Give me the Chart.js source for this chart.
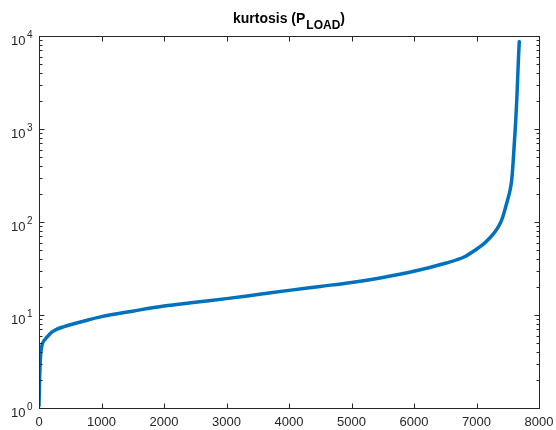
<!DOCTYPE html>
<html>
<head>
<meta charset="utf-8">
<script src="https://cdn.jsdelivr.net/npm/chart.js@4"></script>
<style>
  html, body { margin: 0; padding: 0; background: #ffffff; }
  #wrap { width: 556px; height: 430px; position: relative; }
</style>
</head>
<body>
<div id="wrap"><canvas id="c" width="556" height="430"></canvas></div>
<script>
// ---- data ----
const rankIndex = [0, 3, 6, 10, 15, 20, 30, 50, 100, 150, 200, 300, 400, 600, 800, 1000, 1500, 2000, 2500, 3000, 3500, 4000, 4500, 5000, 5500, 6000, 6500, 6800, 7000, 7100, 7200, 7300, 7380, 7420, 7460, 7500, 7540, 7565, 7585, 7605, 7625, 7645, 7662, 7675, 7685];
const kurtosisValues = [1.05, 1.3, 1.6, 2.1, 2.6, 3.2, 4.0, 4.8, 5.5, 6.0, 6.5, 7.1, 7.5, 8.2, 8.9, 9.6, 11.0, 12.5, 13.7, 15.0, 16.6, 18.4, 20.3, 22.4, 25.3, 29.5, 36, 42, 51, 57, 66, 79, 97, 113, 140, 175, 225, 290, 430, 700, 1150, 2100, 4000, 6500, 8700];
const xTickValues = [0, 1000, 2000, 3000, 4000, 5000, 6000, 7000, 8000];
const yTickExponents = [0, 1, 2, 3, 4];
const titleMain = 'kurtosis (P';
const titleSub = 'LOAD';
const titleEnd = ')';

const points = rankIndex.map((x, i) => ({ x: x, y: kurtosisValues[i] }));

const AXIS_COLOR = '#262626';
const FONT = '"Liberation Sans", Arial, Helvetica, sans-serif';

const matlabAxes = {
  id: 'matlabAxes',
  afterDraw(chart) {
    const ctx = chart.ctx;
    const { left, right, top, bottom } = chart.chartArea;
    const xs = chart.scales.x, ys = chart.scales.y;
    ctx.save();
    ctx.strokeStyle = AXIS_COLOR;
    ctx.lineWidth = 1;
    const L = Math.round(left) + 0.5, R = Math.round(right) + 0.5;
    const T = Math.round(top) + 0.5, B = Math.round(bottom) + 0.5;
    ctx.strokeRect(L, T, R - L, B - T);
    ctx.beginPath();
    xTickValues.forEach(v => {
      const px = Math.round(xs.getPixelForValue(v)) + 0.5;
      ctx.moveTo(px, B); ctx.lineTo(px, B - 5);
      ctx.moveTo(px, T); ctx.lineTo(px, T + 5);
    });
    yTickExponents.forEach(e => {
      const py = Math.round(ys.getPixelForValue(Math.pow(10, e))) + 0.5;
      ctx.moveTo(L, py); ctx.lineTo(L + 5, py);
      ctx.moveTo(R, py); ctx.lineTo(R - 5, py);
      if (e < yTickExponents[yTickExponents.length - 1]) {
        for (let m = 2; m <= 9; m++) {
          const pm = Math.round(ys.getPixelForValue(m * Math.pow(10, e))) + 0.5;
          ctx.moveTo(L, pm); ctx.lineTo(L + 3, pm);
          ctx.moveTo(R, pm); ctx.lineTo(R - 3, pm);
        }
      }
    });
    ctx.stroke();
    // x tick labels
    ctx.fillStyle = AXIS_COLOR;
    ctx.font = '13px ' + FONT;
    ctx.textAlign = 'center';
    ctx.textBaseline = 'top';
    xTickValues.forEach(v => {
      ctx.fillText(String(v), xs.getPixelForValue(v), B + 7);
    });
    // y tick labels: 10^e
    yTickExponents.forEach(e => {
      const py = ys.getPixelForValue(Math.pow(10, e));
      ctx.font = '10px ' + FONT;
      const ew = ctx.measureText(String(e)).width;
      ctx.textAlign = 'right';
      ctx.textBaseline = 'alphabetic';
      ctx.fillText(String(e), L - 7, py + 2);
      ctx.font = '13px ' + FONT;
      ctx.fillText('10', L - 8.5 - ew, py + 8.5);
    });
    // title with subscript
    const cx = (left + right) / 2;
    const tb = 23;
    ctx.fillStyle = '#000000';
    ctx.font = 'bold 14px ' + FONT;
    const w1 = ctx.measureText(titleMain).width;
    const w3 = ctx.measureText(titleEnd).width;
    ctx.font = 'bold 12px ' + FONT;
    const w2 = ctx.measureText(titleSub).width;
    const total = w1 + w2 + w3 + 1;
    let x0 = cx - total / 2;
    ctx.textAlign = 'left';
    ctx.textBaseline = 'alphabetic';
    ctx.font = 'bold 14px ' + FONT;
    ctx.fillText(titleMain, x0, tb);
    ctx.font = 'bold 12px ' + FONT;
    ctx.fillText(titleSub, x0 + w1 + 1, tb + 6);
    ctx.font = 'bold 14px ' + FONT;
    ctx.fillText(titleEnd, x0 + w1 + 1 + w2, tb);
    ctx.restore();
  }
};

new Chart(document.getElementById('c'), {
  type: 'scatter',
  data: {
    datasets: [{
      data: points,
      showLine: true,
      borderColor: 'rgb(0,114,189)',
      backgroundColor: 'rgb(0,114,189)',
      borderWidth: 3.5,
      pointRadius: 0,
      cubicInterpolationMode: 'monotone',
      borderCapStyle: 'round',
      borderJoinStyle: 'round'
    }]
  },
  options: {
    responsive: false,
    animation: false,
    devicePixelRatio: 1,
    layout: { padding: { left: 39, top: 36, right: 17, bottom: 22 } },
    plugins: { legend: { display: false }, tooltip: { enabled: false }, title: { display: false } },
    scales: {
      x: { type: 'linear', min: 0, max: 8000, display: false },
      y: { type: 'logarithmic', min: 1, max: 10000, display: false }
    }
  },
  plugins: [matlabAxes]
});
</script>
</body>
</html>
